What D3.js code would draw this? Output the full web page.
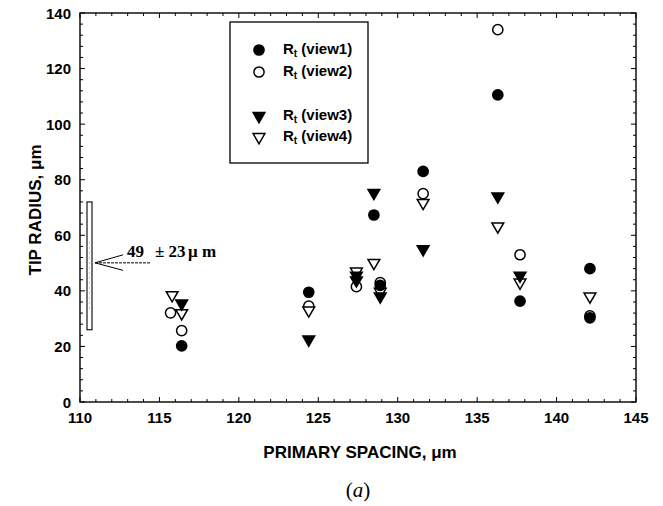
<!DOCTYPE html>
<html>
<head>
<meta charset="utf-8">
<script src="https://cdn.jsdelivr.net/npm/d3@7"></script>
<style>
  html, body { margin: 0; padding: 0; background: #fff; }
  svg { display: block; }
</style>
</head>
<body>
<svg id="chart" width="663" height="506"></svg>
<script>
// Tip radius vs primary spacing, four views
const view1X = [116.4, 124.4, 128.5, 128.9, 131.6, 136.3, 137.7, 142.1, 142.1];
const view1Y = [20.2, 39.5, 67.3, 42.0, 83.0, 110.5, 36.3, 48.0, 30.3];
const view2X = [115.7, 116.4, 124.4, 127.4, 128.9, 131.6, 136.3, 137.7, 142.1];
const view2Y = [32.1, 25.7, 34.5, 41.5, 43.0, 75.0, 134.0, 53.0, 31.0];
const view3X = [116.4, 124.4, 127.4, 127.4, 128.5, 128.9, 131.6, 136.3, 137.7];
const view3Y = [35.5, 22.5, 45.5, 43.8, 75.3, 38.0, 55.0, 74.0, 45.5];
const view4X = [115.8, 116.4, 124.4, 127.4, 128.5, 128.9, 131.6, 136.3, 137.7, 142.1];
const view4Y = [38.5, 32.0, 33.0, 47.0, 50.1, 39.7, 71.7, 63.2, 43.0, 38.0];

const xTicks = [110, 115, 120, 125, 130, 135, 140, 145];
const yTicks = [0, 20, 40, 60, 80, 100, 120, 140];
const legendNames = ["(view1)", "(view2)", "(view3)", "(view4)"];

// mean ± deviation band shown on the left
const bandMean = 49, bandDev = 23;

const svg = d3.select("#chart");
const L = 80, R = 636, T = 13, B = 402;

const x = d3.scaleLinear().domain([110, 145]).range([L, R]);
const y = d3.scaleLinear().domain([0, 140]).range([B, T]);

const sans = "'Liberation Sans', Arial, sans-serif";
const serif = "'Liberation Serif', 'Times New Roman', serif";

// frame
svg.append("rect").attr("x", L).attr("y", T).attr("width", R - L).attr("height", B - T)
  .attr("fill", "none").attr("stroke", "#000").attr("stroke-width", 1.4);

// ticks (inward on all four sides)
const g = svg.append("g").attr("stroke", "#000").attr("stroke-width", 1);
d3.range(110, 145.01, 1).forEach(v => {
  const len = (v % 5 === 0) ? 5 : 3;
  g.append("line").attr("x1", x(v)).attr("x2", x(v)).attr("y1", B).attr("y2", B - len);
  g.append("line").attr("x1", x(v)).attr("x2", x(v)).attr("y1", T).attr("y2", T + len);
});
d3.range(0, 140.01, 4).forEach(v => {
  const len = (v % 20 === 0) ? 5 : 3;
  g.append("line").attr("y1", y(v)).attr("y2", y(v)).attr("x1", L).attr("x2", L + len);
  g.append("line").attr("y1", y(v)).attr("y2", y(v)).attr("x1", R).attr("x2", R - len);
});

// tick labels
svg.append("g").selectAll("text").data(xTicks).join("text")
  .attr("x", d => x(d)).attr("y", B + 21)
  .attr("text-anchor", "middle")
  .attr("font-family", sans).attr("font-weight", "bold").attr("font-size", 15)
  .text(d => d);
svg.append("g").selectAll("text").data(yTicks).join("text")
  .attr("x", L - 9).attr("y", d => y(d) + 5.5)
  .attr("text-anchor", "end")
  .attr("font-family", sans).attr("font-weight", "bold").attr("font-size", 15)
  .text(d => d);

// axis titles
svg.append("text").attr("x", 360).attr("y", 458).attr("text-anchor", "middle")
  .attr("font-family", sans).attr("font-weight", "bold").attr("font-size", 17)
  .text("PRIMARY SPACING, μm");
svg.append("text").attr("transform", "translate(41,210) rotate(-90)").attr("text-anchor", "middle")
  .attr("font-family", sans).attr("font-weight", "bold").attr("font-size", 17)
  .text("TIP RADIUS, μm");
const cap = svg.append("text").attr("x", 358).attr("y", 497).attr("text-anchor", "middle")
  .attr("font-family", serif).attr("font-size", 21);
cap.append("tspan").text("(");
cap.append("tspan").attr("font-style", "italic").text("a");
cap.append("tspan").text(")");

// markers
const circle = d3.symbol().type(d3.symbolCircle).size(82)();
const tri = d3.symbol().type(d3.symbolTriangle).size(60)();
const series = [
  {xs: view2X, ys: view2Y, path: circle, fill: "#fff", rot: 0},
  {xs: view4X, ys: view4Y, path: tri, fill: "#fff", rot: 180},
  {xs: view1X, ys: view1Y, path: circle, fill: "#000", rot: 0},
  {xs: view3X, ys: view3Y, path: tri, fill: "#000", rot: 180}
];
series.forEach(s => {
  svg.append("g").selectAll("path").data(s.xs.map((v, i) => [v, s.ys[i]])).join("path")
    .attr("d", s.path)
    .attr("transform", d => `translate(${x(d[0])},${y(d[1])}) rotate(${s.rot})`)
    .attr("fill", s.fill).attr("stroke", "#000").attr("stroke-width", 1.5);
});

// legend
const lg = svg.append("g");
lg.append("rect").attr("x", 230).attr("y", 22).attr("width", 138).attr("height", 141)
  .attr("fill", "#fff").attr("stroke", "#000").attr("stroke-width", 1.3);
const legendSyms = [
  {path: circle, fill: "#000", rot: 0, cy: 50},
  {path: circle, fill: "#fff", rot: 0, cy: 72},
  {path: tri, fill: "#000", rot: 180, cy: 116},
  {path: tri, fill: "#fff", rot: 180, cy: 137}
];
legendSyms.forEach((s, i) => {
  lg.append("path").attr("d", s.path)
    .attr("transform", `translate(259,${s.cy}) rotate(${s.rot})`)
    .attr("fill", s.fill).attr("stroke", "#000").attr("stroke-width", 1.5);
  const t = lg.append("text").attr("x", 283).attr("y", s.cy + 4)
    .attr("font-family", sans).attr("font-weight", "bold").attr("font-size", 15);
  t.append("tspan").text("R");
  t.append("tspan").attr("font-size", 10).attr("dy", 3).text("t");
  t.append("tspan").attr("dy", -3).text(" " + legendNames[i]);
});

// mean ± deviation bar and annotation
const ann = svg.append("g");
const bTop = y(bandMean + bandDev), bBot = y(bandMean - bandDev);
ann.append("rect").attr("x", 87).attr("y", bTop)
  .attr("width", 5).attr("height", bBot - bTop)
  .attr("fill", "#fff").attr("stroke", "#000").attr("stroke-width", 1.1);
ann.append("line").attr("x1", 89.5).attr("x2", 89.5).attr("y1", bTop + 40).attr("y2", bBot - 20)
  .attr("stroke", "#999").attr("stroke-width", 0.6).attr("stroke-dasharray", "2,3");
const ay = y(bandMean) - 3;
ann.append("line").attr("x1", 95).attr("x2", 150).attr("y1", ay).attr("y2", ay)
  .attr("stroke", "#000").attr("stroke-width", 1).attr("stroke-dasharray", "3,1");
ann.append("line").attr("x1", 95).attr("x2", 123).attr("y1", ay).attr("y2", ay - 8)
  .attr("stroke", "#000").attr("stroke-width", 1);
ann.append("line").attr("x1", 95).attr("x2", 123).attr("y1", ay).attr("y2", ay + 7.5)
  .attr("stroke", "#000").attr("stroke-width", 1);
const at = ann.append("text").attr("y", ay - 6)
  .attr("font-family", serif).attr("font-weight", "bold").attr("font-size", 17);
at.append("tspan").attr("x", 127).text(bandMean);
at.append("tspan").attr("x", 155).text("± " + bandDev);
at.append("tspan").attr("x", 188).text("μ");
at.append("tspan").attr("x", 202).text("m");
</script>
</body>
</html>
